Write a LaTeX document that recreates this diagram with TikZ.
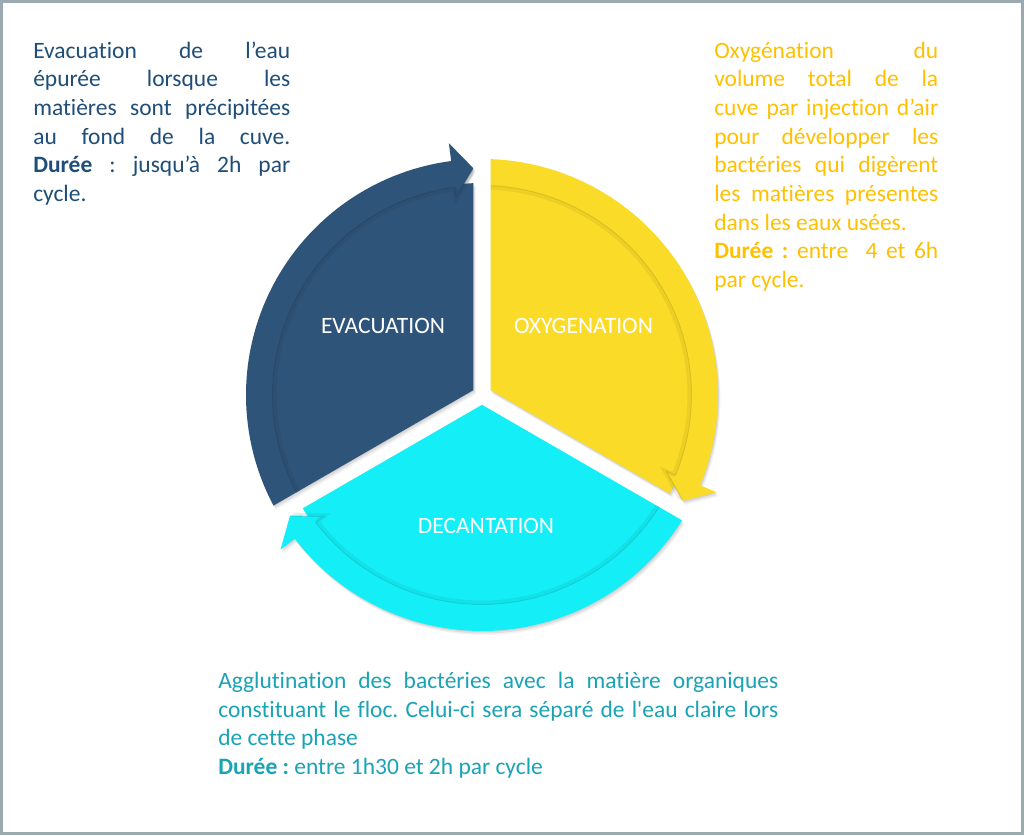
\documentclass[tikz,border=0pt]{standalone}
\usepackage{fontspec}
\setmainfont{Carlito}[Ligatures={TeX,CommonOff}]
\newfontfamily\plainq{Carlito}[Ligatures=CommonOff]
\usetikzlibrary{calc}
\setlength{\parindent}{0pt}
\frenchspacing

\definecolor{evblue}{HTML}{2F5479}
\definecolor{oxyellow}{HTML}{FADC28}
\definecolor{decyan}{HTML}{14EFF7}
\definecolor{txblue}{HTML}{1F4E79}
\definecolor{txgold}{HTML}{FFC000}
\definecolor{txteal}{HTML}{1AA3B5}
\definecolor{framegray}{HTML}{9AAAB0}

\tikzset{
  desc/.style={anchor=north west, inner sep=0pt, align=left,
    font=\fontsize{17.6}{21.5}\selectfont},
  lab/.style={text=white, inner sep=0pt, font=\fontsize{17.6}{21.5}\selectfont},
}

% clip region of one third (gap half-width 8.5)
\newcommand{\partclip}[1]{%
  \clip ({#1+60}:9.815) -- ($({#1+60}:9.815)+({#1}:400)$) -- ({#1+60}:600)
        -- ($({#1+60}:9.815)+({#1+120}:400)$) -- cycle;}
% body + curved arrow of one third, head at angle #1
\newcommand{\partbody}[1]{%
  (0,0) -- ({#1}:212) arc[start angle={#1}, end angle={#1+120}, radius=212] -- cycle
  ({#1+120}:210) arc[start angle={#1+120}, end angle={#1+7.5}, radius=210]
  -- ({#1+7.5}:200) -- ({#1+2.2}:227) -- ({#1+7.5}:254) -- ({#1+7.5}:236)
  arc[start angle={#1+7.5}, end angle={#1+120}, radius=236] -- cycle}
\newcommand{\cyclepart}[2]{%
  \begin{scope}
    \partclip{#1}
    \fill[#2] \partbody{#1};
    \draw[#2!55!black, opacity=.13, line width=3pt]
      ({#1+120}:207.5) arc[start angle={#1+120}, end angle={#1+7.5}, radius=207.5]
      -- ({#1+7.5}:197.5) -- ({#1+2.2}:224.5);
    \draw[#2!55!black, opacity=.22, line width=0.7pt]
      ({#1+120}:209.5) arc[start angle={#1+120}, end angle={#1+7.5}, radius=209.5]
      -- ({#1+7.5}:199.5) -- ({#1+2.2}:226.5);
  \end{scope}}

\begin{document}
\begin{tikzpicture}[x=0.75pt,y=0.75pt]
\fill[white] (-482,-440) rectangle (542,395);
\useasboundingbox (-482,-440) rectangle (542,395);
\draw[framegray, line width=2.4pt] (-480.4,-438.4) rectangle (540.4,393.4);

% soft drop shadows
\foreach \a in {90,-30,-150} {
  \foreach \s/\o in {1/0.07,2.5/0.07,4/0.05} {
    \begin{scope}[shift={(\s*0.6,-\s)}]
      \partclip{\a}
      \fill[black, opacity=\o] \partbody{\a};
    \end{scope}
  }
}

% the three phases
\cyclepart{90}{evblue}
\cyclepart{-30}{oxyellow}
\cyclepart{-150}{decyan}

\node[lab] (evac) at (-99,69.5) {EVACUATION};
\node[lab] (oxy) at (101.5,69.5) {OXYGENATION};
\node[lab] (dec) at (4,-131) {DECANTATION};

\node[desc, text=txblue] (txtevac) at (-449,357) {%
  \makebox[192.75pt][s]{\strut Evacuation de l’eau}\\
  \makebox[192.75pt][s]{\strut épurée lorsque les}\\
  \makebox[192.75pt][s]{\strut matières sont précipitées}\\
  \makebox[192.75pt][s]{\strut au fond de la cuve.}\\
  \makebox[192.75pt][s]{\strut\textbf{Durée} : jusqu’à 2h par}\\
  \strut cycle.};

\node[desc, text=txgold] (txtoxy) at (232,357) {%
  \makebox[168pt][s]{\strut Oxygénation du}\\
  \makebox[168pt][s]{\strut volume total de la}\\
  \makebox[168pt][s]{\strut cuve par injection d’air}\\
  \makebox[168pt][s]{\strut pour développer les}\\
  \makebox[168pt][s]{\strut bactéries qui digèrent}\\
  \makebox[168pt][s]{\strut les matières présentes}\\
  \strut dans les eaux usées.\\
  \makebox[168pt][s]{\strut\textbf{Durée :} entre\ \ 4 et 6h}\\
  \strut par cycle.};

\node[desc, text=txteal] (txtdec) at (-264,-273) {%
  \makebox[420pt][s]{\strut Agglutination des bactéries avec la matière organiques}\\
  \makebox[420pt][s]{\strut constituant le floc. Celui-ci sera séparé de l{\plainq'}eau claire lors}\\
  \strut de cette phase\\
  \strut\textbf{Durée :} entre 1h30 et 2h par cycle};
\end{tikzpicture}
\end{document}
